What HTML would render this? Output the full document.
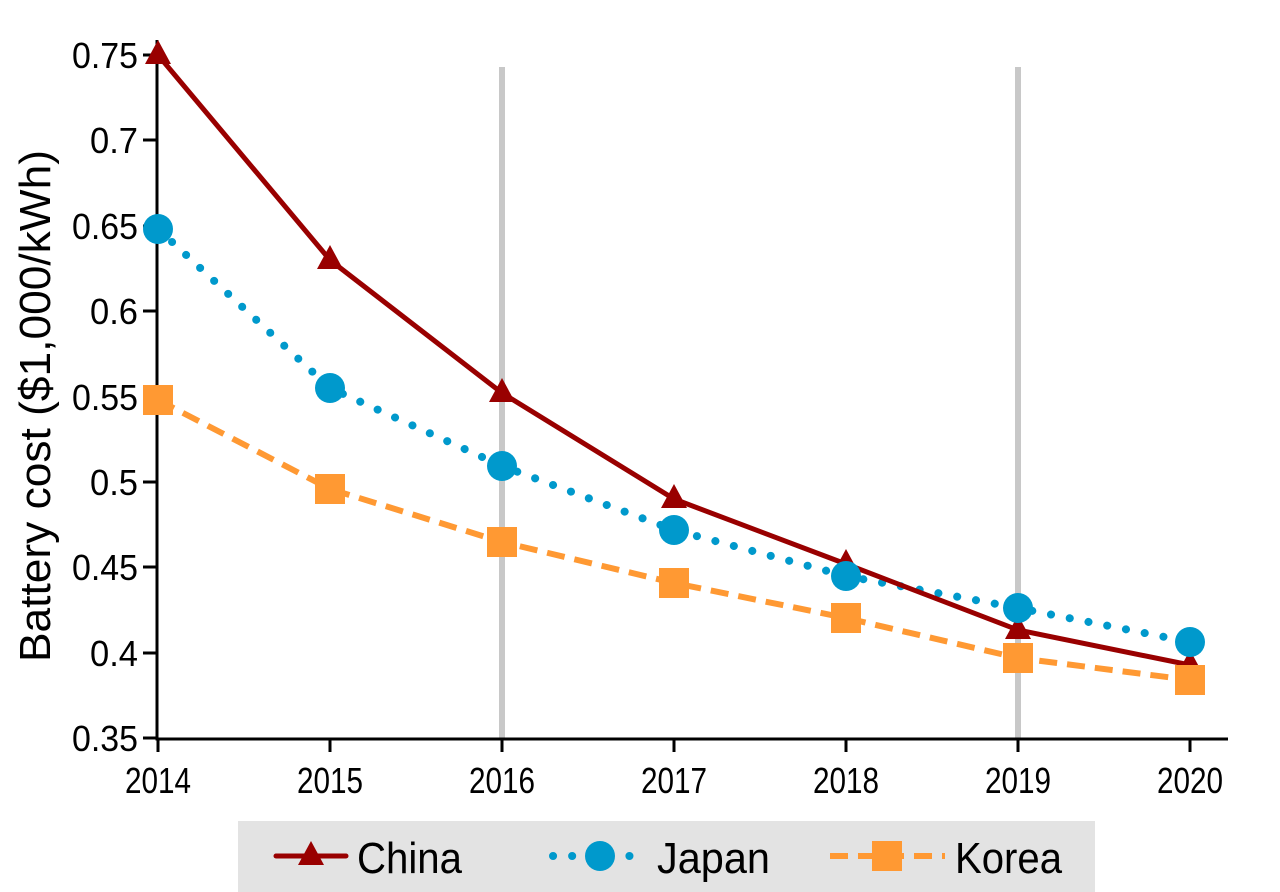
<!DOCTYPE html>
<html><head><meta charset="utf-8"><style>body{margin:0;background:#fff}svg{display:block}text{font-family:"Liberation Sans",sans-serif;fill:#000}</style></head><body>
<svg width="1280" height="892" viewBox="0 0 1280 892">
<line x1="502" y1="67" x2="502" y2="738" stroke="#c8c8c8" stroke-width="6"/>
<line x1="1018" y1="67" x2="1018" y2="738" stroke="#c8c8c8" stroke-width="6"/>
<g stroke="#000" stroke-width="3" fill="none">
<path d="M157 40V739H1228"/>
<path d="M143 55h14M143 140h14M143 226h14M143 311h14M143 397h14M143 482h14M143 567h14M143 653h14M143 738h14"/>
<path d="M158 738v14M330 738v14M502 738v14M674 738v14M846 738v14M1018 738v14M1190 738v14"/>
</g>
<g font-size="36" text-anchor="end">
<text x="138" y="68" textLength="66" lengthAdjust="spacingAndGlyphs">0.75</text><text x="138" y="153" textLength="48" lengthAdjust="spacingAndGlyphs">0.7</text><text x="138" y="239" textLength="66" lengthAdjust="spacingAndGlyphs">0.65</text><text x="138" y="324" textLength="48" lengthAdjust="spacingAndGlyphs">0.6</text><text x="138" y="410" textLength="66" lengthAdjust="spacingAndGlyphs">0.55</text><text x="138" y="495" textLength="48" lengthAdjust="spacingAndGlyphs">0.5</text><text x="138" y="580" textLength="66" lengthAdjust="spacingAndGlyphs">0.45</text><text x="138" y="666" textLength="48" lengthAdjust="spacingAndGlyphs">0.4</text><text x="138" y="751" textLength="66" lengthAdjust="spacingAndGlyphs">0.35</text>
</g>
<g font-size="36" text-anchor="middle">
<text x="158" y="793" textLength="66" lengthAdjust="spacingAndGlyphs">2014</text><text x="330" y="793" textLength="66" lengthAdjust="spacingAndGlyphs">2015</text><text x="502" y="793" textLength="66" lengthAdjust="spacingAndGlyphs">2016</text><text x="674" y="793" textLength="66" lengthAdjust="spacingAndGlyphs">2017</text><text x="846" y="793" textLength="66" lengthAdjust="spacingAndGlyphs">2018</text><text x="1018" y="793" textLength="66" lengthAdjust="spacingAndGlyphs">2019</text><text x="1190" y="793" textLength="66" lengthAdjust="spacingAndGlyphs">2020</text>
</g>
<text transform="translate(50,406) rotate(-90)" font-size="44" text-anchor="middle" textLength="512" lengthAdjust="spacingAndGlyphs">Battery cost ($1,000/kWh)</text>
<polyline points="158,400 330,489 502,542 674,583 846,618 1018,658 1190,680" fill="none" stroke="#ff9933" stroke-width="6" stroke-dasharray="18,10"/>
<polyline points="158,229 330,388 502,466 674,530 846,576 1018,608 1190,642" fill="none" stroke="#0099cc" stroke-width="8" stroke-dasharray="0.1,19" stroke-linecap="round"/>
<polyline points="158,55 330,260 502,393 674,499 846,564 1018,630 1190,665" fill="none" stroke="#990000" stroke-width="5"/>
<g fill="#990000">
<path d="M158,40l13,24h-26z"/><path d="M330,245l13,24h-26z"/><path d="M502,378l13,24h-26z"/><path d="M674,484l13,24h-26z"/><path d="M846,549l13,24h-26z"/><path d="M1018,615l13,24h-26z"/><path d="M1190,650l13,24h-26z"/>
</g>
<g fill="#0099cc">
<circle cx="158" cy="229" r="15"/><circle cx="330" cy="388" r="15"/><circle cx="502" cy="466" r="15"/><circle cx="674" cy="530" r="15"/><circle cx="846" cy="576" r="15"/><circle cx="1018" cy="608" r="15"/><circle cx="1190" cy="642" r="15"/>
</g>
<g fill="#ff9933">
<rect x="143" y="385" width="30" height="30"/><rect x="315" y="474" width="30" height="30"/><rect x="487" y="527" width="30" height="30"/><rect x="659" y="568" width="30" height="30"/><rect x="831" y="603" width="30" height="30"/><rect x="1003" y="643" width="30" height="30"/><rect x="1175" y="665" width="30" height="30"/>
</g>
<rect x="238" y="821" width="857" height="71" fill="#e3e3e3"/>
<line x1="276" y1="856" x2="346" y2="856" stroke="#990000" stroke-width="5" stroke-linecap="round"/>
<path d="M311,841l13,24h-26z" fill="#990000"/>
<text x="357" y="873" font-size="44" textLength="105" lengthAdjust="spacingAndGlyphs">China</text>
<line x1="553" y1="856" x2="646" y2="856" stroke="#0099cc" stroke-width="8" stroke-dasharray="0.1,19" stroke-linecap="round"/>
<circle cx="600" cy="856" r="15" fill="#0099cc"/>
<text x="657" y="873" font-size="44" textLength="113" lengthAdjust="spacingAndGlyphs">Japan</text>
<line x1="830" y1="856" x2="945" y2="856" stroke="#ff9933" stroke-width="6" stroke-dasharray="18,10"/>
<rect x="872" y="841" width="30" height="30" fill="#ff9933"/>
<text x="955" y="873" font-size="44" textLength="107" lengthAdjust="spacingAndGlyphs">Korea</text>
</svg>
</body></html>
